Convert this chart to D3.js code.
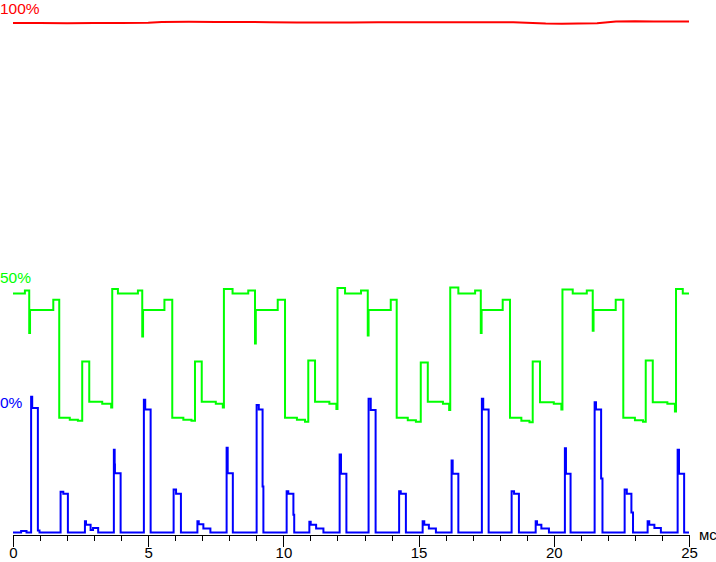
<!DOCTYPE html>
<html>
<head>
<meta charset="utf-8">
<script src="https://cdn.jsdelivr.net/npm/d3@7"></script>
<style>
html,body{margin:0;padding:0;background:#fff;}
svg{display:block;}
text{font-family:"Liberation Sans",Arial,sans-serif;}
</style>
</head>
<body>
<svg id="chart" width="716" height="562"></svg>
<script>
// time in ms, value in %
const redSeries = [
  [0,99.8],[1,99.8],[2,99.75],[3,99.8],[4,99.8],[5,99.85],[5.5,100.0],[6.5,100.05],[7.5,100.0],
  [8.5,100.0],[9.5,99.95],[10.5,99.9],[11.5,99.9],[12.5,99.9],[13.5,99.95],[14.5,99.95],
  [15.5,99.95],[16.5,99.95],[17.5,99.95],[18.5,99.95],[19.7,99.7],[20.3,99.65],[20.9,99.7],
  [21.6,99.75],[22.3,100.1],[23.0,100.15],[23.7,100.1],[24.4,100.1],[25,100.1]
];

// green: step changes [t, value]
const greenSeries = [
  [0,46.8],[0.44,47.4],[0.60,39.1],[0.63,43.6],[1.49,45.6],[1.71,22.5],[2.1,22.1],[2.4,21.9],
  [2.56,33.5],[2.82,25.6],[3.3,25.2],[3.63,24.5],[3.67,47.7],[3.88,46.8],[4.62,47.4],
  [4.78,38.4],[4.81,43.6],[5.60,45.6],[5.89,22.5],[6.3,22.1],[6.6,21.9],[6.73,33.5],
  [6.98,25.6],[7.5,25.2],[7.76,24.5],[7.80,47.7],[8.12,46.8],[8.70,47.4],[8.95,37.0],
  [8.98,43.6],[9.79,45.6],[10.06,22.5],[10.5,22.1],[10.8,21.7],[10.92,33.7],[11.17,25.6],
  [11.7,25.2],[11.96,24.2],[12.00,47.9],[12.28,46.8],[12.87,47.4],[13.12,38.6],[13.15,43.6],
  [13.97,45.6],[14.19,22.5],[14.6,22.0],[14.9,21.7],[15.08,33.3],[15.34,25.6],[15.9,25.2],
  [16.13,24.0],[16.17,48.0],[16.47,46.8],[17.09,47.4],[17.30,39.1],[17.33,43.6],[18.11,45.6],
  [18.38,22.5],[18.8,21.9],[19.1,21.6],[19.22,33.5],[19.49,25.5],[20.0,25.2],[20.28,24.1],
  [20.32,47.6],[20.70,46.8],[21.22,47.4],[21.44,39.5],[21.47,43.6],[22.29,45.6],[22.57,22.5],
  [23.0,22.0],[23.3,21.7],[23.40,33.7],[23.66,25.5],[24.2,25.2],[24.48,23.7],[24.52,47.7],
  [24.77,46.8],[25,46.8]
];

// blue: step changes [t, value]
const blueSeries = [
  [0,0],[0.3,0.3],[0.5,0],[0.67,26.6],[0.71,24.4],[0.92,0.4],[0.98,0],
  [1.76,8.0],[1.86,7.6],[2.03,0],[2.66,2.2],[2.70,1.5],[2.87,0.5],[2.96,0.9],[3.15,0],
  [3.73,16.2],[3.76,13.3],[3.77,11.6],[3.98,0],
  [4.84,26.0],[4.89,24.1],[5.09,0],
  [5.94,8.4],[6.03,7.6],[6.21,0],[6.82,2.2],[6.87,1.6],[7.04,0.8],[7.3,0],
  [7.90,16.6],[7.94,11.6],[8.13,0],
  [9.01,25.0],[9.09,24.1],[9.23,9.0],[9.26,0],
  [10.12,8.1],[10.18,7.6],[10.37,3.5],[10.40,0],[10.96,2.1],[11.01,1.5],[11.21,0.8],[11.48,0],
  [12.08,15.3],[12.13,11.5],[12.33,0],
  [13.15,26.2],[13.23,24.0],[13.41,0],
  [14.28,8.1],[14.34,7.6],[14.53,0],[15.15,2.2],[15.21,1.5],[15.38,0.8],[15.64,0],
  [16.22,14.1],[16.26,11.5],[16.47,0],
  [17.34,26.2],[17.39,24.1],[17.59,0],
  [18.44,8.1],[18.53,7.6],[18.71,0],[19.33,2.2],[19.38,1.5],[19.54,0.8],[19.82,0],
  [20.41,16.5],[20.45,11.5],[20.62,0],
  [21.51,25.5],[21.56,24.1],[21.75,10.6],[21.80,0],
  [22.62,8.4],[22.70,7.6],[22.87,3.9],[22.93,0],[23.47,2.2],[23.53,1.5],[23.72,0.9],[23.96,0],
  [24.58,16.2],[24.63,11.5],[24.82,0],[25,0]
];

const majorTicks = [0,5,10,15,20,25];
const minorTicks = d3.range(0,26,1);
const unitLabel = "мс";
const seriesLabels = [
  {text:"100%", color:"#ff0000"},
  {text:"50%", color:"#00ff00"},
  {text:"0%", color:"#0000ff"}
];

const svg = d3.select("#chart");
const x = d3.scaleLinear().domain([0,25]).range([13,689]);
const y = d3.scaleLinear().domain([0,100]).range([532.5,22]);

// axis
const axisG = svg.append("g").attr("transform","translate(0,534.5)");
axisG.call(d3.axisBottom(x).tickValues(minorTicks).tickSize(6).tickSizeOuter(0).tickFormat(""));
const majorG = svg.append("g").attr("transform","translate(0,534.5)");
majorG.call(d3.axisBottom(x).tickValues(majorTicks).tickSize(12).tickSizeOuter(0).tickFormat(d3.format("d")));
majorG.select(".domain").remove();
svg.selectAll(".tick line").attr("stroke","#000").attr("shape-rendering","crispEdges");
axisG.select(".domain").attr("stroke","#000").attr("shape-rendering","crispEdges");
majorG.selectAll("text")
  .attr("font-size","15px").attr("font-family","Liberation Sans, Arial, sans-serif")
  .attr("fill","#000").attr("y",13).attr("dy","0.71em");

svg.append("text").attr("x",699).attr("y",540).attr("font-size","15px").attr("fill","#000").text(unitLabel);

const line = d3.line().x(d=>x(d[0])).y(d=>y(d[1]));
const stepLine = d3.line().x(d=>x(d[0])).y(d=>y(d[1])).curve(d3.curveStepAfter);

svg.append("path").datum(redSeries).attr("d",line)
  .attr("fill","none").attr("stroke","#ff0000").attr("stroke-width",2);
svg.append("path").datum(greenSeries).attr("d",stepLine)
  .attr("fill","none").attr("stroke","#00ff00").attr("stroke-width",2);
svg.append("path").datum(blueSeries).attr("d",stepLine)
  .attr("fill","none").attr("stroke","#0000ff").attr("stroke-width",2);

// series labels
const labelY = [14, 283, 408];
svg.selectAll(".slabel").data(seriesLabels).enter().append("text")
  .attr("class","slabel").attr("x",0).attr("y",(d,i)=>labelY[i])
  .attr("font-size","15.5px").attr("fill",d=>d.color).text(d=>d.text);
</script>
</body>
</html>
